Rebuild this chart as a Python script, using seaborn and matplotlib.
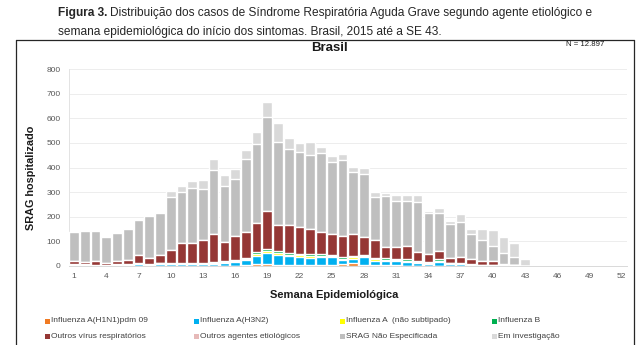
import matplotlib
matplotlib.use("Agg")
import matplotlib.pyplot as plt
from matplotlib import font_manager
from matplotlib.patches import Rectangle
from matplotlib.lines import Line2D
import numpy as np
import pandas as pd
import seaborn as sns

# Semanas epidemiológicas 1-52 (dados até a SE 43)
weeks = list(range(1, 53))
tick_weeks = list(range(1, 53, 3))

flu_h1n1 = [1, 3, 1, 1, 1, 1, 1, 1, 1, 1,
            1, 1, 1, 1, 2, 2, 3, 7, 9, 3,
            3, 3, 3, 3, 4, 10, 12, 5, 3, 3,
            3, 2, 2, 1, 2, 1, 1, 1, 0, 0,
            0, 2, 0] + [0] * 9
flu_h3n2 = [2, 1, 1, 1, 2, 3, 8, 4, 9, 6,
            6, 6, 7, 8, 10, 16, 20, 35, 42, 41,
            38, 34, 30, 32, 32, 15, 18, 33, 19, 17,
            17, 15, 9, 8, 15, 7, 6, 3, 2, 2,
            0, 0, 0] + [0] * 9
flu_a_ns = [0, 0, 0, 0, 1, 1, 1, 1, 1, 1,
            2, 3, 2, 3, 5, 3, 5, 8, 11, 8,
            5, 6, 7, 7, 5, 5, 6, 2, 6, 5,
            5, 5, 5, 3, 5, 3, 3, 2, 1, 1,
            1, 3, 0] + [0] * 9
flu_b = [4, 4, 3, 2, 4, 3, 1, 2, 3, 3,
         3, 2, 3, 4, 3, 5, 6, 8, 7, 7,
         6, 5, 7, 5, 5, 5, 5, 3, 6, 6,
         5, 5, 4, 3, 5, 3, 3, 2, 2, 2,
         1, 0, 0] + [0] * 9
outros_virus = [13, 7, 15, 10, 11, 17, 32, 26, 30, 54,
                82, 82, 92, 112, 77, 95, 103, 118, 155, 106,
                113, 110, 102, 90, 84, 87, 89, 75, 72, 46,
                46, 54, 38, 32, 34, 17, 22, 20, 15, 14,
                3, 0, 0] + [0] * 9
outros_agentes = [0] * 40 + [3, 1, 0] + [0] * 9
srag_ne = [119, 127, 121, 105, 117, 125, 142, 169, 170, 215,
           208, 221, 208, 262, 228, 234, 299, 319, 380, 340,
           309, 303, 302, 320, 292, 307, 250, 257, 173, 207,
           187, 184, 202, 167, 156, 138, 144, 101, 86, 63,
           43, 29, 0] + [0] * 9
em_investigacao = [0, 0, 0, 0, 0, 0, 0, 3, 3, 24,
                   21, 30, 38, 44, 43, 39, 35, 48, 63, 74,
                   47, 40, 52, 27, 26, 26, 22, 21, 21, 11,
                   24, 25, 30, 9, 17, 15, 32, 21, 46, 64,
                   67, 60, 27] + [0] * 9

series_names = ["Influenza A(H1N1)pdm 09", "Influenza A(H3N2)",
                "Influenza A  (não subtipado)", "Influenza B",
                "Outros vírus respiratórios", "Outros agentes etiológicos",
                "SRAG Não Especificada", "Em investigação"]
series_values = [flu_h1n1, flu_h3n2, flu_a_ns, flu_b,
                 outros_virus, outros_agentes, srag_ne, em_investigacao]
series_colors = ["#F07A22", "#00B0F0", "#FFFF00", "#00B050",
                 "#953735", "#E6B9B8", "#BFBFBF", "#D9D9D9"]

sns.set_theme(style="white")
installed = {f.name for f in font_manager.fontManager.ttflist}
base_font = "Liberation Sans" if "Liberation Sans" in installed else "DejaVu Sans"
narrow_font = "Liberation Sans Narrow" if "Liberation Sans Narrow" in installed else base_font
plt.rcParams["font.family"] = [base_font, "DejaVu Sans"]

W, H = 641, 345
fig = plt.figure(figsize=(W / 100, H / 100), dpi=100)
fig.patch.set_facecolor("white")


def fx(px):
    return px / W


def fy(py):
    return 1 - py / H


ax = fig.add_axes([fx(69), fy(266), fx(627) - fx(69), fy(69) - fy(266)])

# Stacked bars: draw cumulative totals from the top layer down
df = pd.DataFrame(dict(zip(series_names, series_values)), index=weeks)
cum = df.cumsum(axis=1)
for name, color in reversed(list(zip(series_names, series_colors))):
    layer = pd.DataFrame({"semana": weeks, "casos": cum[name].values})
    sns.barplot(data=layer, x="semana", y="casos", color=color,
                saturation=1, width=0.9, errorbar=None, ax=ax, zorder=3)

ax.set_ylim(0, 800)
ax.set_xlim(-0.47, 51.5)
ax.set_yticks(range(0, 801, 100))
ax.set_xticks([w - 1 for w in tick_weeks])
ax.set_xticklabels([str(w) for w in tick_weeks])
ax.tick_params(axis="both", labelsize=6, labelcolor="#595959", length=0)
ax.tick_params(axis="y", pad=6)
ax.tick_params(axis="x", pad=5)
ax.set_xlabel("")
ax.set_ylabel("")
ax.grid(axis="y", color="#EDEDED", linewidth=0.7, zorder=0)
for side in ["top", "right"]:
    ax.spines[side].set_visible(False)
ax.spines["left"].set_color("#E3E3E3")
ax.spines["bottom"].set_color("#D9D9D9")
ax.spines["left"].set_linewidth(0.7)
ax.spines["bottom"].set_linewidth(0.7)

fig.text(fx(334), fy(295), "Semana Epidemiológica", ha="center", va="center",
         fontsize=8, fontweight="bold", color="#1a1a1a")
fig.text(fx(31), fy(178), "SRAG hospitalizado", ha="center", va="center",
         rotation=90, fontsize=7.8, fontweight="bold", color="#1a1a1a")
fig.text(fx(330), fy(48), "Brasil", ha="center", va="center",
         fontsize=9.5, fontweight="bold", color="#1a1a1a")
fig.text(fx(604), fy(45), "N = 12.897", ha="right", va="center",
         fontsize=5.6, color="#1a1a1a")

# Caption above the chart box
cap_size = 8.6
t_bold = fig.text(fx(58), fy(16), "Figura 3.", ha="left", va="baseline",
                  fontsize=cap_size, fontweight="bold", family=[narrow_font, "DejaVu Sans"])
fig.canvas.draw()
r = fig.canvas.get_renderer()
bb = t_bold.get_window_extent(r)
fig.text((bb.x1 + 3) / W, fy(16),
         "Distribuição dos casos de Síndrome Respiratória Aguda Grave segundo agente etiológico e",
         ha="left", va="baseline", fontsize=cap_size, family=[narrow_font, "DejaVu Sans"])
fig.text(fx(58), fy(35),
         "semana epidemiológica do início dos sintomas. Brasil, 2015 até a SE 43.",
         ha="left", va="baseline", fontsize=cap_size, family=[narrow_font, "DejaVu Sans"])

# Chart frame
frame_kw = dict(color="#262626", linewidth=0.9, transform=fig.transFigure)
fig.add_artist(Line2D([fx(16), fx(634)], [fy(39.5), fy(39.5)], **frame_kw))
fig.add_artist(Line2D([fx(16), fx(16)], [fy(39.5), 0], **frame_kw))
fig.add_artist(Line2D([fx(634), fx(634)], [fy(39.5), 0], **frame_kw))

# Legend: two rows, four columns
legend_x = [47, 196, 342, 494]
legend_y = [321, 336]
order = [[0, 1, 2, 3], [4, 5, 6, 7]]
for row, idxs in enumerate(order):
    for col, i in enumerate(idxs):
        x0, y0 = legend_x[col], legend_y[row]
        fig.add_artist(Rectangle((fx(x0 - 2.5), fy(y0 + 2.5)), 5 / W, 5 / H,
                                 facecolor=series_colors[i], edgecolor="none",
                                 transform=fig.transFigure))
        fig.text(fx(x0 + 4), fy(y0), series_names[i], ha="left", va="center",
                 fontsize=6, color="#404040")

fig.savefig("out.png", dpi=100, facecolor="white")
